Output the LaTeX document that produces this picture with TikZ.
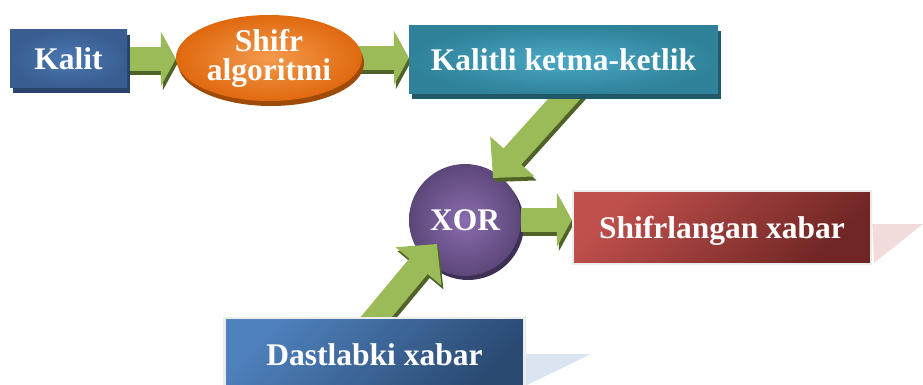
\documentclass[tikz,border=0pt]{standalone}
\usepackage{fontspec}
\setmainfont{Liberation Serif}
\usetikzlibrary{calc, arrows.meta, shapes.geometric, shadows}

% Colours
\definecolor{kalitblue}{HTML}{395D90}
\definecolor{kalitlight}{HTML}{4A78B2}
\definecolor{kalitdark}{HTML}{27436B}
\definecolor{tealbase}{HTML}{2F8299}
\definecolor{teallight}{HTML}{4AA8C4}
\definecolor{tealdark}{HTML}{1F5866}
\definecolor{orangebase}{HTML}{E0690F}
\definecolor{orangelight}{HTML}{F49A4C}
\definecolor{orangedark}{HTML}{A04A08}
\definecolor{xorbase}{HTML}{5C4779}
\definecolor{xorlight}{HTML}{8A6CAE}
\definecolor{xordark}{HTML}{3E2F56}
\definecolor{redtop}{HTML}{C0504D}
\definecolor{redbottom}{HTML}{6F2624}
\definecolor{bluetop}{HTML}{4F81BD}
\definecolor{bluebottom}{HTML}{2A4A72}
\definecolor{arrowgreen}{HTML}{9BBB59}
\definecolor{arrowdark}{HTML}{4F6228}
\definecolor{pinkshade}{HTML}{F2DCDB}
\definecolor{blueshade}{HTML}{DBE5F1}
\definecolor{boxrim}{HTML}{ECECEC}

% Layers: perspective shades, XOR disc, arrows, boxes
\pgfdeclarelayer{shade}
\pgfdeclarelayer{base}
\pgfdeclarelayer{arrows}
\pgfsetlayers{shade,base,arrows,main}

\tikzset{
  wordtext/.style={text=white, font=\bfseries\fontsize{31.5}{29}\selectfont, inner sep=0pt},
  oneline/.style={text height=21.5pt, text depth=0pt},
  keybox/.style={wordtext, oneline, rectangle, general shadow={fill=#1, shadow xshift=3pt, shadow yshift=-5pt}},
  msgbox/.style={wordtext, oneline, rectangle, draw=boxrim, line width=2.5pt},
  flow/.style={line width=24pt, draw=arrowgreen, -{Triangle[length=15pt, width=54pt]}, shorten <=-10pt},
  steep/.style={-{Triangle[length=29pt, width=58pt]}},
  flowback/.style={flow, draw=arrowdark, transform canvas={shift={(2pt,-4pt)}}},
}

\begin{document}
\begin{tikzpicture}[x=1pt, y=-1pt]
  \useasboundingbox (0,0) rectangle (923,385);

  % Boxes of the top row
  \node[keybox=kalitdark, minimum width=117pt, minimum height=58pt,
        inner color=kalitlight, outer color=kalitblue] (kalit) at (68.5,59) {Kalit};
  \node[wordtext, ellipse, minimum width=186pt, minimum height=86pt, align=center,
        inner color=orangelight, outer color=orangebase,
        general shadow={fill=orangedark, shadow xshift=2pt, shadow yshift=-5pt}]
        (shifr) at (269,58) {Shifr\\algoritmi};
  \node[keybox=tealdark, minimum width=309pt, minimum height=68pt,
        inner color=teallight, outer color=tealbase] (kalitli) at (563.5,60) {Kalitli ketma-ketlik};

  % XOR disc (under the arrows)
  \begin{pgfonlayer}{base}
    \node[wordtext, oneline, circle, minimum size=112pt,
          inner color=xorlight, outer color=xorbase,
          general shadow={fill=xordark, shadow xshift=3pt, shadow yshift=-4pt}]
          (xor) at (465,220) {XOR};
  \end{pgfonlayer}

  % Message boxes
  \node[msgbox, minimum width=298pt, minimum height=73pt,
        top color=redtop, bottom color=redbottom, shading angle=45] (shifrl) at (722,227.5) {Shifrlangan xabar};
  \node[msgbox, minimum width=300pt, minimum height=73pt,
        top color=bluetop, bottom color=bluebottom, shading angle=45] (dastl) at (374.5,354.5) {Dastlabki xabar};

  % Perspective shades behind the message boxes
  \begin{pgfonlayer}{shade}
    \fill[pinkshade] (shifrl.east |- 0,224) -- (923,224) -- (874,263) -- cycle;
    \fill[blueshade] (dastl.east |- 0,354) -- (591,354) -- (525,386) -- cycle;
  \end{pgfonlayer}

  % Tips of the slanted arrows on the XOR disc
  \coordinate (xortop) at ($(xor.center)+(28,-42)$);
  \coordinate (xorlow) at ($(xor.center)+(-28,24)$);

  % Green block arrows
  \begin{pgfonlayer}{arrows}
    \draw[flowback] (kalit.east) -- (kalit.east -| shifr.west);
    \draw[flow] (kalit.east) -- (kalit.east -| shifr.west);
    \draw[flowback] (shifr.east) -- (shifr.east -| kalitli.west);
    \draw[flow] (shifr.east) -- (shifr.east -| kalitli.west);
    \draw[flowback, steep] ($(kalitli.south)+(5,0)$) -- (xortop);
    \draw[flow, steep] ($(kalitli.south)+(5,0)$) -- (xortop);
    \draw[flowback, steep] ($(dastl.north)+(2,0)$) -- (xorlow);
    \draw[flow, steep] ($(dastl.north)+(2,0)$) -- (xorlow);
    \draw[flowback, shorten <=0pt] (xor.east) -- (xor.east -| shifrl.west);
    \draw[flow, shorten <=0pt] (xor.east) -- (xor.east -| shifrl.west);
  \end{pgfonlayer}

\end{tikzpicture}
\end{document}
